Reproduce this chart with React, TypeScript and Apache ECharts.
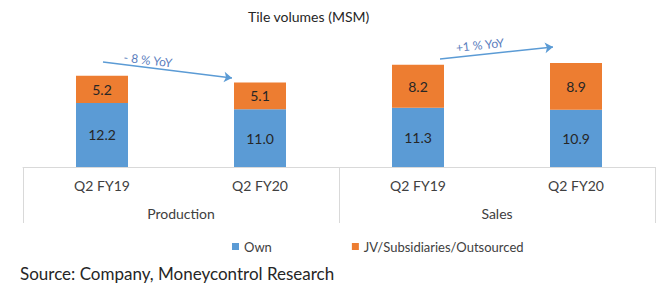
import React, { useEffect, useRef } from "react";
import * as echarts from "echarts";

const categories = ["Q2 FY19", "Q2 FY20", "Q2 FY19", "Q2 FY20"];
const groups = ["Production", "Sales"];
const ownValues = [12.2, 11.0, 11.3, 10.9];
const jvValues = [5.2, 5.1, 8.2, 8.9];
const seriesNames = ["Own", "JV/Subsidiaries/Outsourced"];
const yoyLabels = ["- 8 % YoY", "+1 % YoY"];
const titleText = "Tile volumes (MSM)";
const sourceText = "Source: Company, Moneycontrol Research";

const FONT = "Lato, 'Open Sans', sans-serif";

export default function App() {
  const ref = useRef<HTMLDivElement>(null);
  useEffect(() => {
    document.body.style.margin = "0";
    const chart = echarts.init(ref.current!, null, { renderer: "svg" });
    const label = {
      show: true,
      position: "inside",
      color: "#262626",
      fontSize: 14,
      fontFamily: FONT,
      formatter: (p: any) => Number(p.value).toFixed(1),
    };
    chart.setOption({
      animation: false,
      textStyle: { fontFamily: FONT },
      title: {
        text: titleText,
        left: 248,
        top: 9,
        padding: 0,
        textStyle: { fontSize: 14, fontWeight: "normal", color: "#262626", fontFamily: FONT },
      },
      legend: {
        data: seriesNames,
        left: 232,
        top: 240,
        padding: 0,
        itemWidth: 7,
        itemHeight: 7,
        itemGap: 80,
        icon: "rect",
        textStyle: { fontSize: 13, color: "#404040", fontFamily: FONT },
      },
      grid: { left: 23, right: 10, top: 62, bottom: 120 },
      xAxis: [
        {
          type: "category",
          data: categories,
          axisLine: { show: true, lineStyle: { color: "#d9d9d9", width: 1 } },
          axisTick: { show: false },
          axisLabel: { margin: 11, fontSize: 14, color: "#404040", fontFamily: FONT },
        },
        {
          type: "category",
          data: groups,
          position: "bottom",
          axisLine: { show: false },
          axisTick: { show: true, length: 56, interval: 0, lineStyle: { color: "#d9d9d9" } },
          axisLabel: { margin: 39, fontSize: 14, color: "#404040", fontFamily: FONT },
          splitLine: { show: false },
        },
      ],
      yAxis: { type: "value", min: 0, max: 20, show: false },
      series: [
        {
          name: seriesNames[0],
          type: "bar",
          stack: "a",
          xAxisIndex: 0,
          barWidth: 52,
          data: ownValues,
          itemStyle: { color: "#5b9bd5" },
          label,
          markLine: {
            silent: true,
            symbol: ["none", "arrow"],
            symbolSize: 8,
            label: { show: false },
            lineStyle: { color: "#5b9bd5", width: 1.5, type: "solid" },
            emphasis: { disabled: true },
            data: [
              [{ x: 103, y: 62 }, { x: 232, y: 78 }],
              [{ x: 440, y: 59 }, { x: 553, y: 47 }],
            ],
          },
        },
        {
          name: seriesNames[1],
          type: "bar",
          stack: "a",
          xAxisIndex: 0,
          barWidth: 52,
          data: jvValues,
          itemStyle: { color: "#ed7d31" },
          label,
        },
      ],
      graphic: [
        {
          type: "text",
          x: 148,
          y: 60,
          rotation: -0.12,
          style: {
            text: yoyLabels[0],
            fill: "#5a7dbd",
            font: `12px ${FONT}`,
            textAlign: "center",
            textVerticalAlign: "middle",
          },
        },
        {
          type: "text",
          x: 480,
          y: 45,
          rotation: 0.11,
          style: {
            text: yoyLabels[1],
            fill: "#5a7dbd",
            font: `12px ${FONT}`,
            textAlign: "center",
            textVerticalAlign: "middle",
          },
        },
        {
          type: "text",
          x: 20,
          y: 273,
          style: {
            text: sourceText,
            fill: "#262626",
            font: `17px ${FONT}`,
            textAlign: "left",
            textVerticalAlign: "middle",
          },
        },
      ],
    });
    return () => chart.dispose();
  }, []);
  return <div ref={ref} style={{ width: 665, height: 287 }} />;
}
